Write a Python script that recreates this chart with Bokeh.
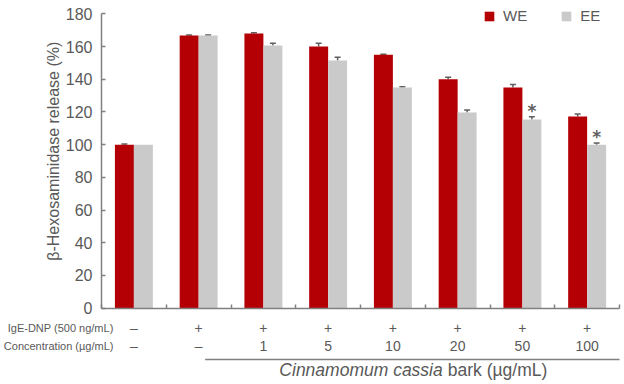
import math
from bokeh.plotting import figure
from bokeh.models import (ColumnDataSource, Range1d, FixedTicker, LinearAxis,
                          Legend, LegendItem, Whisker, TeeHead)
from bokeh.core.properties import value
from bokeh.embed import file_html
from bokeh.resources import INLINE

# ---------------- data ----------------
groups = ["control", "IgE", "1", "5", "10", "20", "50", "100"]
ige_row = ["–", "+", "+", "+", "+", "+", "+", "+"]
conc_row = ["–", "–", "1", "5", "10", "20", "50", "100"]
we_values = [100, 166.7, 168.0, 160.0, 155.0, 140.0, 135.0, 117.2]
ee_values = [100, 166.7, 160.6, 151.4, 135.0, 119.6, 115.3, 100.0]
we_err = [0.4, 0.4, 0.4, 2.0, 0.3, 1.2, 1.8, 1.6]
ee_err = [0.0, 0.4, 1.4, 2.0, 0.4, 1.6, 1.8, 1.0]
ee_sig = ["", "", "", "", "", "", "*", "*"]
y_ticks = [0, 20, 40, 60, 80, 100, 120, 140, 160, 180]
series_names = ["WE", "EE"]
row_titles = ["IgE-DNP (500 ng/mL)", "Concentration (µg/mL)"]
caption_italic = "Cinnamomum cassia"
caption_plain = "bark (µg/mL)"
y_label = "β-Hexosaminidase release (%)"

# ---------------- style / layout ----------------
RED = "#B40005"
GRAY = "#C9CAC9"
AXIS = "#808080"
TXT = "#595959"
ERR = "#5F5F5F"
FONT = "Liberation Sans"

W, H = 624, 384
n = len(groups)
bar_w = 0.293
centers = [i + 0.5 for i in range(n)]
we_x = [c - bar_w / 2 for c in centers]
ee_x = [c + bar_w / 2 for c in centers]

X_START, X_END = -1.56, 8.077
Y_MAX = y_ticks[-1]
Y_START, Y_END = -46.65, 188.13
ROW_IGE_Y = -12.1
ROW_CONC_Y = -23.4
LINE_Y = -31.3
CAPTION_Y = -38.0
ROW_TITLE_X = 0.185
CAPTION_SPLIT_X = 5.27
YLABEL_X, YLABEL_Y = -0.74, 96.0

p = figure(width=W, height=H, x_range=Range1d(X_START, X_END), y_range=Range1d(Y_START, Y_END),
           x_axis_location=None, y_axis_location=None, title=None,
           output_backend="svg", toolbar_location=None,
           min_border_left=0, min_border_right=0, min_border_top=0, min_border_bottom=0)
p.grid.visible = False
p.outline_line_color = None

# y axis, pinned at x = 0
ya = LinearAxis(fixed_location=0, bounds=(0, Y_MAX), ticker=FixedTicker(ticks=y_ticks))
ya.minor_tick_line_color = None
ya.major_tick_in = 4
ya.major_tick_out = 0
ya.major_tick_line_color = AXIS
ya.major_tick_line_width = 1.5
ya.axis_line_color = AXIS
ya.axis_line_width = 1.5
ya.major_label_standoff = 9
ya.major_label_text_font = FONT
ya.major_label_text_font_size = "16px"
ya.major_label_text_color = TXT
p.add_layout(ya, "left")

# x axis (baseline with group-boundary ticks, no labels), pinned at y = 0
xa = LinearAxis(fixed_location=0, bounds=(0, n), ticker=FixedTicker(ticks=list(range(n + 1))))
xa.minor_tick_line_color = None
xa.major_tick_in = 4
xa.major_tick_out = 0
xa.major_tick_line_color = AXIS
xa.major_tick_line_width = 1.5
xa.axis_line_color = AXIS
xa.axis_line_width = 1.5
xa.major_label_text_color = None
p.add_layout(xa, "below")

# y axis title
p.text(x=[YLABEL_X], y=[YLABEL_Y], text=[y_label], angle=math.pi / 2, text_align="center",
       text_baseline="middle", text_font=value(FONT), text_font_size="16px", text_color=TXT)

# bars
src = ColumnDataSource(dict(we_x=we_x, ee_x=ee_x, we=we_values, ee=ee_values))
r_we = p.vbar(x="we_x", top="we", bottom=0, width=bar_w, fill_color=RED, line_color=None, source=src)
r_ee = p.vbar(x="ee_x", top="ee", bottom=0, width=bar_w, fill_color=GRAY, line_color=None, source=src)

# error bars
def add_whisker(xs, vals, errs):
    keep = [i for i in range(len(vals)) if errs[i] > 0]
    s = ColumnDataSource(dict(x=[xs[i] for i in keep],
                              lower=[vals[i] for i in keep],
                              upper=[vals[i] + errs[i] for i in keep]))
    w = Whisker(source=s, base="x", lower="lower", upper="upper", dimension="height",
                line_color=ERR, line_width=1.5, lower_head=None,
                upper_head=TeeHead(size=6, line_color=ERR, line_width=1.5))
    p.add_layout(w)

add_whisker(we_x, we_values, we_err)
add_whisker(ee_x, ee_values, ee_err)

# significance stars
sig_idx = [i for i in range(n) if ee_sig[i]]
p.text(x=[ee_x[i] for i in sig_idx], y=[ee_values[i] + ee_err[i] for i in sig_idx],
       text=[ee_sig[i] for i in sig_idx], text_align="center", text_baseline="alphabetic",
       y_offset=-6, text_font=value("DejaVu Sans"), text_font_size="17px",
       text_font_style="bold", text_color=ERR)

# treatment table
p.text(x=centers, y=[ROW_IGE_Y] * n, text=ige_row, text_align="center", text_baseline="middle",
       text_font=value(FONT), text_font_size="14px", text_color=TXT)
p.text(x=centers, y=[ROW_CONC_Y] * n, text=conc_row, text_align="center", text_baseline="middle",
       text_font=value(FONT), text_font_size="14px", text_color=TXT)
p.text(x=[ROW_TITLE_X] * 2, y=[ROW_IGE_Y, ROW_CONC_Y], text=row_titles, text_align="right",
       text_baseline="middle", text_font=value(FONT), text_font_size="11px", text_color=TXT)

p.segment(x0=[centers[1] + 0.1], y0=[LINE_Y], x1=[n], y1=[LINE_Y], line_color=AXIS, line_width=1.5)
p.text(x=[CAPTION_SPLIT_X], y=[CAPTION_Y], text=[caption_italic], text_align="right",
       text_baseline="middle", text_font=value(FONT), text_font_size="17.5px",
       text_font_style="italic", text_color=TXT)
p.text(x=[CAPTION_SPLIT_X], y=[CAPTION_Y], text=[caption_plain], text_align="left",
       text_baseline="middle", x_offset=5, text_font=value(FONT), text_font_size="17.5px",
       text_color=TXT)

# legend
legend = Legend(items=[LegendItem(label=series_names[0], renderers=[r_we]),
                       LegendItem(label=series_names[1], renderers=[r_ee])],
                orientation="horizontal", location=(483, 360), padding=0, margin=0,
                spacing=33, label_standoff=8, glyph_width=12, glyph_height=12,
                label_height=12, border_line_color=None, background_fill_alpha=0,
                label_text_font=FONT, label_text_font_size="15px", label_text_color=TXT)
p.add_layout(legend)

open("out.html", "w").write(file_html(p, INLINE))
